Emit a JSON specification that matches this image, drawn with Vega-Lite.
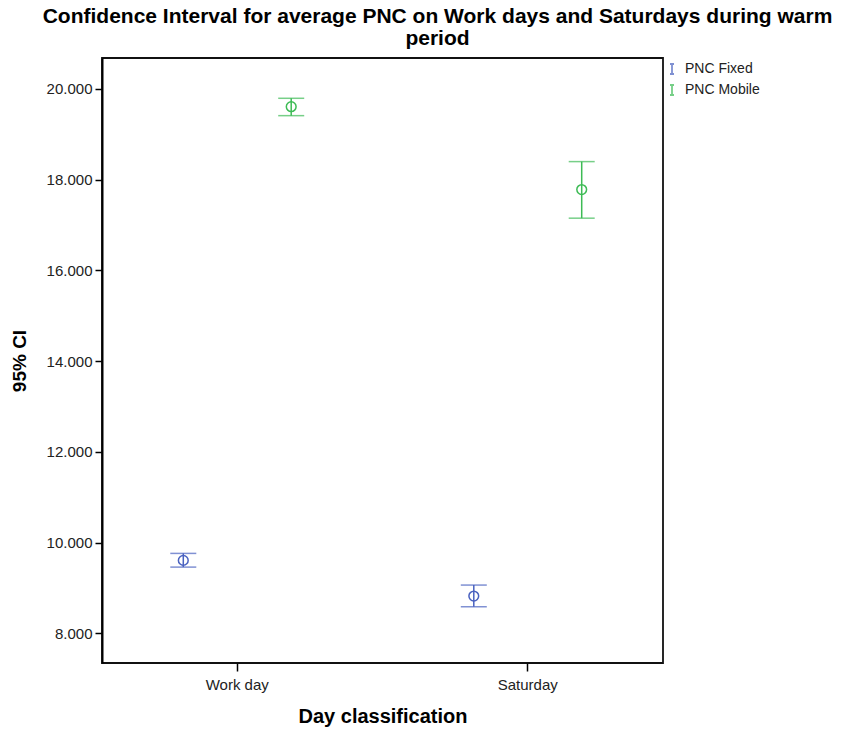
{
  "$schema": "https://vega.github.io/schema/vega-lite/v6.json",
  "autosize": "none",
  "width": 561,
  "height": 605,
  "padding": {"left": 102, "top": 58, "right": 178, "bottom": 73},
  "background": "white",
  "title": {
    "text": ["Confidence Interval for average PNC on Work days and Saturdays during warm", "period"],
    "font": "Liberation Sans",
    "fontSize": 21,
    "fontWeight": "bold",
    "color": "#000",
    "lineHeight": 22,
    "anchor": "middle",
    "dx": 55,
    "offset": 9
  },
  "config": {
    "view": {"stroke": "#111", "strokeWidth": 1.8},
    "font": "Liberation Sans",
    "axis": {"grid": false, "domainColor": "#000", "domainWidth": 2, "tickColor": "#000", "tickWidth": 1.5, "labelFont": "Liberation Sans", "titleFont": "Liberation Sans", "labelColor": "#222", "titleColor": "#000"}
  },
  "data": {
    "values": [
      {"Day": "Work day", "Series": "PNC Fixed", "mean": 9608, "lower": 9460, "upper": 9762},
      {"Day": "Work day", "Series": "PNC Mobile", "mean": 19610, "lower": 19412, "upper": 19795},
      {"Day": "Saturday", "Series": "PNC Fixed", "mean": 8822, "lower": 8586, "upper": 9064},
      {"Day": "Saturday", "Series": "PNC Mobile", "mean": 17782, "lower": 17152, "upper": 18399}
    ]
  },
  "encoding": {
    "x": {
      "field": "Day", "type": "nominal", "sort": ["Work day", "Saturday"],
      "scale": {"paddingInner": 0, "paddingOuter": 0, "range": [-10, 571]},
      "axis": {"title": "Day classification", "domain": false, "labelAngle": 0, "labelFontSize": 15, "labelPadding": 6, "tickSize": 8, "titleFontSize": 20, "titleFontWeight": "bold", "titlePadding": 14}
    },
    "xOffset": {"field": "Series", "type": "nominal", "scale": {"paddingInner": 0, "paddingOuter": 0.346}},
    "color": {
      "field": "Series", "type": "nominal",
      "scale": {"domain": ["PNC Fixed", "PNC Mobile"], "range": ["#4a62c0", "#3dbb55"]},
      "legend": {
        "title": null, "orient": "none", "legendX": 563, "legendY": 4,
        "symbolType": "M-0.4,-1H0.4M0,-1V1M-0.4,1H0.4",
        "symbolSize": 100, "symbolStrokeWidth": 1.8, "symbolFillColor": "transparent",
        "labelFontSize": 14, "labelFont": "Liberation Sans", "labelColor": "#222", "labelOffset": 6,
        "rowPadding": 3, "padding": 0
      }
    }
  },
  "layer": [
    {
      "mark": {"type": "rule", "strokeWidth": 1.5},
      "encoding": {
        "y": {
          "field": "lower", "type": "quantitative",
          "scale": {"domain": [7346, 20683], "nice": false, "zero": false},
          "axis": {
            "title": "95% CI", "titleFontSize": 19, "titleFontWeight": "bold", "titlePadding": 17,
            "values": [8000, 10000, 12000, 14000, 16000, 18000, 20000],
            "labelExpr": "replace(format(datum.value, ',.0f'), ',', '.')",
            "labelFontSize": 15, "labelPadding": 3, "tickSize": 7
          }
        },
        "y2": {"field": "upper"}
      }
    },
    {
      "mark": {"type": "tick", "size": 26, "thickness": 1.5},
      "encoding": {"y": {"field": "lower", "type": "quantitative"}}
    },
    {
      "mark": {"type": "tick", "size": 26, "thickness": 1.5},
      "encoding": {"y": {"field": "upper", "type": "quantitative"}}
    },
    {
      "mark": {"type": "point", "shape": "circle", "filled": false, "size": 95, "strokeWidth": 1.5, "opacity": 1},
      "encoding": {"y": {"field": "mean", "type": "quantitative"}}
    }
  ]
}
